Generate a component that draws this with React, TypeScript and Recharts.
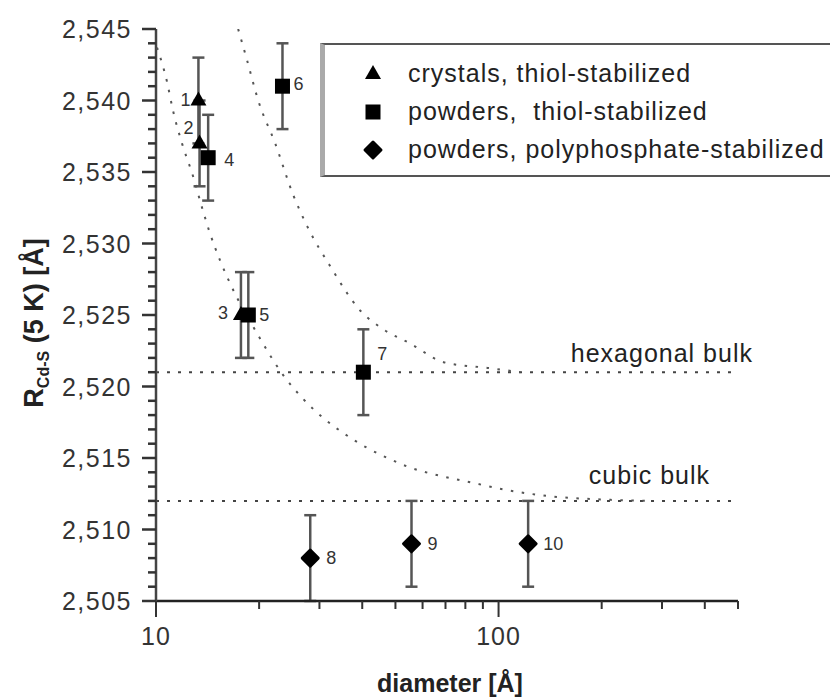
import React from 'react';
import { ScatterChart, Scatter, XAxis, YAxis, ReferenceLine, ErrorBar } from 'recharts';

// crystals, thiol-stabilized (triangles)
const crystalIds = [1, 2, 3];
const crystalDiameter = [13.3, 13.4, 17.7];
const crystalR = [2.54, 2.537, 2.525];
const crystalErr = [0.003, 0.003, 0.003];

// powders, thiol-stabilized (squares)
const thiolPowderIds = [4, 5, 6, 7];
const thiolPowderDiameter = [14.2, 18.6, 23.4, 40.3];
const thiolPowderR = [2.536, 2.525, 2.541, 2.521];
const thiolPowderErr = [0.003, 0.003, 0.003, 0.003];

// powders, polyphosphate-stabilized (diamonds)
const phosphateIds = [8, 9, 10];
const phosphateDiameter = [28.2, 55.7, 122];
const phosphateR = [2.508, 2.509, 2.509];
const phosphateErr = [0.003, 0.003, 0.003];

// dotted guide curves
const cubicCurveD = [10.07, 10.77, 11.21, 11.91, 12.83, 13.63, 14.38, 15.39, 16.46, 19.74, 23.51, 26.72, 30.78, 35.45, 41.4, 47.4, 54.2, 69.1, 82.8, 103.4, 144.8, 198.7, 278];
const cubicCurveR = [2.5437, 2.5413, 2.5393, 2.537, 2.5347, 2.5325, 2.5307, 2.5288, 2.5272, 2.5237, 2.5208, 2.5192, 2.5178, 2.5167, 2.5157, 2.515, 2.5144, 2.5137, 2.5133, 2.5128, 2.5123, 2.5121, 2.512];
const hexCurveD = [17.37, 18.45, 19.88, 22.28, 25.15, 27.64, 32.27, 39.5, 46.1, 55.3, 69.1, 92.9, 115.9];
const hexCurveR = [2.545, 2.5428, 2.54, 2.537, 2.5334, 2.5312, 2.5284, 2.5253, 2.524, 2.523, 2.5217, 2.5213, 2.521];

const hexagonalBulk = 2.521;
const cubicBulk = 2.512;

const xTicks = [10, 20, 30, 40, 50, 60, 70, 80, 90, 100, 200, 300, 400, 500];
const xMajor = [10, 100];
const yTicks = Array.from({ length: 41 }, (_, i) => (2505 + i) / 1000);

const legendItems = [
  { name: 'crystals, thiol-stabilized', marker: 'triangle' },
  { name: 'powders,  thiol-stabilized', marker: 'square' },
  { name: 'powders, polyphosphate-stabilized', marker: 'diamond' },
];

// where each point number sits relative to its marker
const labelPlace: Record<number, [number, number, 'start' | 'end']> = {
  1: [-8, -1, 'end'],
  2: [-6, -15, 'end'],
  3: [-13, -2, 'end'],
  4: [16, 2, 'start'],
  5: [11, 0, 'start'],
  6: [11, -2, 'start'],
  7: [14, -18, 'start'],
  8: [16, 0, 'start'],
  9: [16, 0, 'start'],
  10: [15, 0, 'start'],
};

const FONT = 'Arial, "Liberation Sans", sans-serif';

const toRows = (ids: number[], d: number[], r: number[], e: number[]) =>
  ids.map((id, i) => ({ id, d: d[i], r: r[i], err: e[i] }));

const crystals = toRows(crystalIds, crystalDiameter, crystalR, crystalErr);
const thiolPowders = toRows(thiolPowderIds, thiolPowderDiameter, thiolPowderR, thiolPowderErr);
const phosphates = toRows(phosphateIds, phosphateDiameter, phosphateR, phosphateErr);
const cubicCurve = cubicCurveD.map((d, i) => ({ d, r: cubicCurveR[i] }));
const hexCurve = hexCurveD.map((d, i) => ({ d, r: hexCurveR[i] }));

const markerPath = (kind: string, cx: number, cy: number) => {
  if (kind === 'triangle') return <polygon points={`${cx},${cy - 9} ${cx - 8},${cy + 5} ${cx + 8},${cy + 5}`} fill="#000" />;
  if (kind === 'square') return <rect x={cx - 7.5} y={cy - 7.5} width={15} height={15} fill="#000" />;
  return (
    <polygon
      points={`${cx},${cy - 8} ${cx + 8},${cy} ${cx},${cy + 8} ${cx - 8},${cy}`}
      fill="#000"
      stroke="#000"
      strokeWidth={3}
      strokeLinejoin="round"
    />
  );
};

const makeShape = (kind: string) => (p: any) => {
  const id = p.payload?.id;
  const place = labelPlace[id];
  return (
    <g>
      {markerPath(kind, p.cx, p.cy)}
      {place && (
        <text
          x={p.cx + place[0]}
          y={p.cy + place[1]}
          textAnchor={place[2]}
          dominantBaseline="central"
          fontSize={18}
          fontFamily={FONT}
          fill="#333"
        >
          {id}
        </text>
      )}
    </g>
  );
};

const XTick = ({ x, y, payload }: any) => {
  const major = xMajor.includes(payload.value);
  return (
    <g>
      <line x1={x} y1={y} x2={x} y2={y + (major ? 16 : 8)} stroke="#333" strokeWidth={2} />
      {major && (
        <text x={x} y={y + 35} textAnchor="middle" dominantBaseline="central" fontSize={25} letterSpacing={1} fontFamily={FONT} fill="#333">
          {payload.value}
        </text>
      )}
    </g>
  );
};

const YTick = ({ x, y, payload }: any) => {
  const v = Math.round(payload.value * 1000);
  const major = v % 5 === 0;
  return (
    <g>
      <line x1={x - (major ? 14 : 8)} y1={y} x2={x} y2={y} stroke="#333" strokeWidth={2.5} />
      {major && (
        <text x={x - 24} y={y} textAnchor="end" dominantBaseline="central" fontSize={25} letterSpacing={1.5} fontFamily={FONT} fill="#333">
          {(v / 1000).toFixed(3).replace('.', ',')}
        </text>
      )}
    </g>
  );
};

const bulkLabel = (text: string, dx: number, dy: number) => (props: any) => {
  const vb = props.viewBox;
  return (
    <text
      x={vb.x + vb.width + dx}
      y={vb.y + dy}
      textAnchor="end"
      dominantBaseline="central"
      fontSize={25}
      letterSpacing={1}
      fontFamily={FONT}
      fill="#222"
    >
      {text}
    </text>
  );
};

const YTitle = (props: any) => {
  const vb = props.viewBox;
  const cx = vb.x + 43;
  const cy = vb.y + vb.height / 2 + 8;
  return (
    <text
      x={cx}
      y={cy}
      transform={`rotate(-90, ${cx}, ${cy})`}
      textAnchor="middle"
      fontSize={27}
      fontWeight="bold"
      fontFamily={FONT}
      fill="#222"
    >
      R<tspan fontSize={16} dy={6}>Cd-S</tspan>
      <tspan dy={-6}> (5 K) [Å]</tspan>
    </text>
  );
};

const XTitle = (props: any) => {
  const vb = props.viewBox;
  return (
    <text
      x={vb.x + vb.width / 2 + 3}
      y={vb.y + 82}
      textAnchor="middle"
      dominantBaseline="central"
      fontSize={25}
      fontWeight="bold"
      fontFamily={FONT}
      fill="#222"
    >
      diameter [Å]
    </text>
  );
};

const LegendBox = () => (
  <div
    style={{
      position: 'absolute',
      left: 320,
      top: 43,
      width: 530,
      height: 130,
      borderTop: '2px solid #555',
      borderBottom: '2px solid #555',
      borderLeft: '5px solid #aaa',
      background: '#fff',
      fontFamily: FONT,
    }}
  >
    {legendItems.map((item, i) => (
      <div key={item.name} style={{ position: 'absolute', left: 0, top: 10 + i * 38, height: 38, width: 520 }}>
        <svg width={24} height={24} style={{ position: 'absolute', left: 36, top: 7 }}>
          {markerPath(item.marker, 12, 12)}
        </svg>
        <span
          style={{
            position: 'absolute',
            left: 83,
            top: 3,
            fontSize: 25,
            letterSpacing: 1,
            lineHeight: '30px',
            color: '#222',
            whiteSpace: 'pre',
          }}
        >
          {item.name}
        </span>
      </div>
    ))}
  </div>
);

const App: React.FC = () => {
  const curveLine = { stroke: '#555', strokeWidth: 2, strokeDasharray: '2.5 8.5' };
  return (
    <div style={{ position: 'absolute', left: 0, top: 0, width: 830, height: 699, overflow: 'hidden', background: '#fff' }}>
      <ScatterChart width={830} height={699} margin={{ top: 29, right: 92, bottom: 0, left: 0 }}>
        <XAxis
          type="number"
          dataKey="d"
          scale="log"
          domain={[10, 500]}
          allowDataOverflow
          ticks={xTicks}
          interval={0}
          tick={<XTick />}
          tickLine={false}
          tickSize={0}
          tickMargin={0}
          height={98}
          axisLine={{ stroke: '#222', strokeWidth: 2.5 }}
          label={XTitle}
        />
        <YAxis
          type="number"
          dataKey="r"
          domain={[2.505, 2.545]}
          allowDataOverflow
          ticks={yTicks}
          interval={0}
          tick={<YTick />}
          tickLine={false}
          tickSize={0}
          tickMargin={0}
          width={156}
          axisLine={{ stroke: '#444', strokeWidth: 2.5 }}
          label={YTitle}
        />
        <ReferenceLine
          y={hexagonalBulk}
          stroke="#444"
          strokeWidth={2}
          strokeDasharray="3 8"
          label={bulkLabel('hexagonal bulk', 15, -19)}
        />
        <ReferenceLine
          y={cubicBulk}
          stroke="#444"
          strokeWidth={2}
          strokeDasharray="3 8"
          label={bulkLabel('cubic bulk', -28, -26)}
        />
        <Scatter data={cubicCurve} line={curveLine} lineJointType="monotoneX" shape={() => <g />} isAnimationActive={false} />
        <Scatter data={hexCurve} line={curveLine} lineJointType="monotoneX" shape={() => <g />} isAnimationActive={false} />
        <Scatter data={crystals} shape={makeShape('triangle')} isAnimationActive={false}>
          <ErrorBar dataKey="err" direction="y" width={6} stroke="#555" strokeWidth={2.5} />
        </Scatter>
        <Scatter data={thiolPowders} shape={makeShape('square')} isAnimationActive={false}>
          <ErrorBar dataKey="err" direction="y" width={6} stroke="#555" strokeWidth={2.5} />
        </Scatter>
        <Scatter data={phosphates} shape={makeShape('diamond')} isAnimationActive={false}>
          <ErrorBar dataKey="err" direction="y" width={6} stroke="#555" strokeWidth={2.5} />
        </Scatter>
      </ScatterChart>
      <LegendBox />
    </div>
  );
};

export default App;
